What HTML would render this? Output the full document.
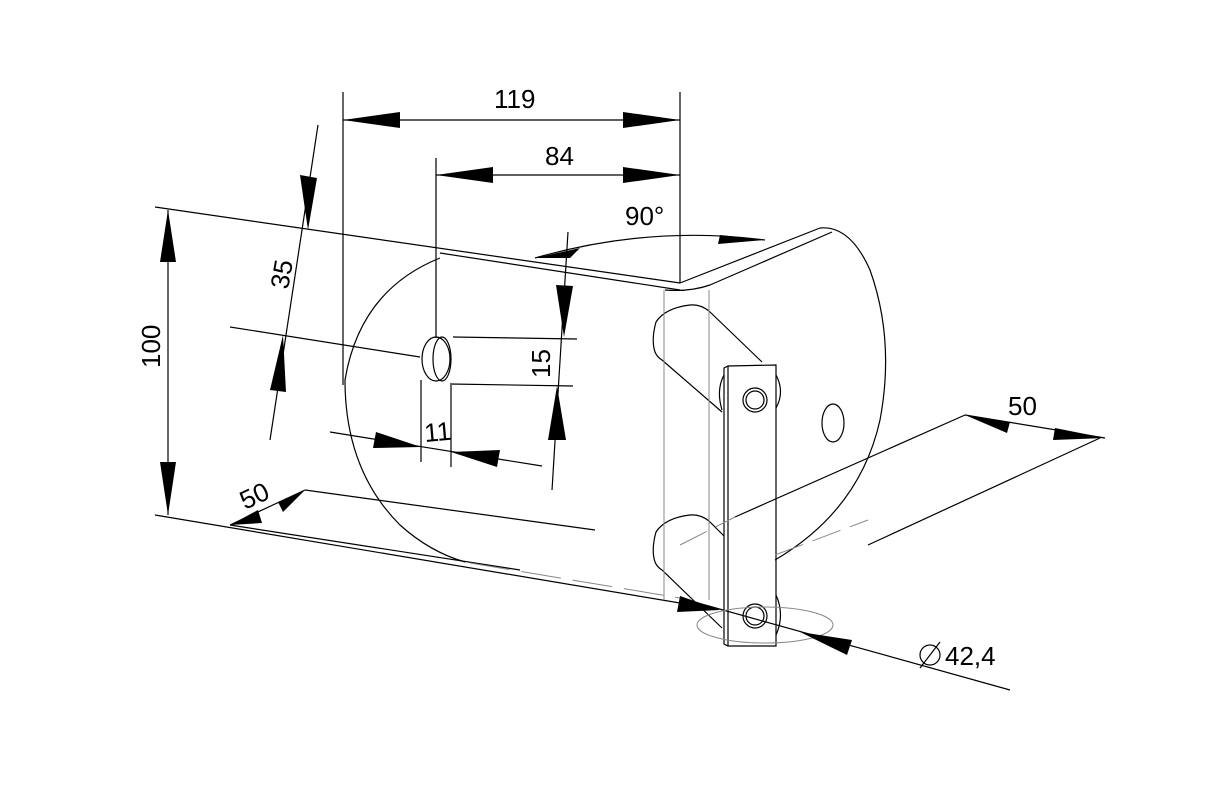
<!DOCTYPE html>
<html><head><style>body{margin:0;background:#fff}svg{display:block}text{font-family:"Liberation Sans",sans-serif;font-size:26px;fill:#000}</style></head>
<body>
<svg width="1211" height="798" viewBox="0 0 1211 798" xmlns="http://www.w3.org/2000/svg">
<g stroke="#000" stroke-width="1.2" fill="none">
<line x1="155" y1="207" x2="680" y2="283"/>
<line x1="440" y1="253" x2="680" y2="290"/>
<path d="M680 283 L820 228"/>
<path d="M665 290 Q690 292 710 285 L832 232"/>
<path d="M820 228 Q850 225 870 270 Q895 340 880 420 Q860 510 775 560"/>
<line x1="155" y1="515" x2="680" y2="603"/>
<line x1="230" y1="525" x2="520" y2="570"/>
<line x1="305" y1="490" x2="595" y2="530"/>
<path d="M440 258 Q360 290 345 380 Q345 470 400 525 Q430 552 465 562"/>
<line x1="168" y1="210" x2="168" y2="515"/>
<line x1="343" y1="92" x2="343" y2="385"/>
<line x1="680" y1="92" x2="680" y2="283"/>
<line x1="343" y1="120" x2="680" y2="120"/>
<line x1="436" y1="158" x2="436" y2="338"/>
<line x1="436" y1="175" x2="680" y2="175"/>
<line x1="318" y1="125" x2="270" y2="440"/>
<line x1="230" y1="327" x2="420" y2="357"/>
<ellipse cx="436" cy="359" rx="14" ry="22"/>
<ellipse cx="442" cy="359" rx="9" ry="22"/>
<line x1="453" y1="337" x2="577" y2="339"/>
<line x1="450" y1="384" x2="573" y2="386"/>
<line x1="568" y1="232" x2="552" y2="490"/>
<line x1="421" y1="380" x2="421" y2="462"/>
<line x1="451" y1="385" x2="451" y2="467"/>
<line x1="330" y1="432" x2="542" y2="466"/>
<line x1="230" y1="525" x2="305" y2="490"/>
<path d="M535 258 Q650 225 765 240"/>
<!-- pins -->
<path d="M709 311 Q700 304 690 305 Q665 308 656 322 Q651 340 655 352 Q657 357 662 360 L722 412"/>
<path d="M709 311 L762 362"/>
<path d="M724 375 Q716 390 722 410"/>
<path d="M776 375 Q785 392 776 408"/>
<path d="M709 521 Q700 514 690 515 Q665 518 656 532 Q651 550 655 562 Q657 567 662 570 L722 628"/>
<path d="M709 521 L724 536"/>
<path d="M776 595 Q785 615 776 635"/>
<!-- bar -->
<path d="M724 368 L728 366 L776 365 L776 646 L728 646 L724 644 Z"/>
<line x1="728" y1="366" x2="728" y2="646"/>
<circle cx="755" cy="400" r="12"/><circle cx="755" cy="400" r="9"/>
<circle cx="755" cy="616" r="12"/><circle cx="755" cy="616" r="9"/>
<ellipse cx="833" cy="423" rx="11" ry="19"/>
<line x1="735" y1="517" x2="965" y2="415"/>
<line x1="868" y1="545" x2="1100" y2="438"/>
<line x1="965" y1="415" x2="1105" y2="438"/>
<line x1="680" y1="598" x2="1010" y2="690"/>
<circle cx="930" cy="655" r="10"/><line x1="920" y1="668" x2="940" y2="642"/>
</g>
<g stroke="#888" stroke-width="1" fill="none">
<line x1="664" y1="290" x2="664" y2="600"/>
<line x1="709" y1="290" x2="709" y2="600"/>
<ellipse cx="765" cy="625" rx="68" ry="18"/>
<path d="M680 545 L735 517" stroke-dasharray="30 10"/>
<path d="M470 563 L680 598" stroke-dasharray="40 12"/>
<path d="M775 555 L868 520" stroke-dasharray="30 10"/>
</g>
<g fill="#000">
<polygon points="168,210 160,262 176,262"/><polygon points="168,515 160,462 176,462"/>
<polygon points="343,120 400,112 400,128"/><polygon points="680,120 623,112 623,128"/>
<polygon points="436,175 493,167 493,183"/><polygon points="680,175 623,167 623,183"/>
<polygon points="308,230 300,175 317,178"/><polygon points="283,335 270,390 286,392"/>
<polygon points="564,337 556,285 573,286"/><polygon points="557,386 548,440 566,440"/>
<polygon points="421,447 376,432 373,448"/><polygon points="451,452 500,450 497,467"/>
<polygon points="230,525 258,510 262,523"/><polygon points="305,490 278,502 283,512"/>
<polygon points="535,258 580,248 570,258"/><polygon points="765,240 720,235 718,244"/>
<polygon points="965,415 1010,422 1007,433"/><polygon points="1105,438 1055,428 1053,440"/>
<polygon points="720,610 680,596 677,612"/><polygon points="800,632 852,640 847,655"/>
</g>
<text x="494" y="108">119</text>
<text x="545" y="165">84</text>
<text x="625" y="225">90°</text>
<text transform="translate(160,368) rotate(-90)">100</text>
<text transform="translate(288,290) rotate(-80)">35</text>
<text transform="translate(550,378) rotate(-90)">15</text>
<text transform="translate(425,442) rotate(-5)">11</text>
<text transform="translate(245,510) rotate(-25)">50</text>
<text x="1008" y="415">50</text>
<text x="945" y="665">42,4</text>
</svg>
</body></html>
